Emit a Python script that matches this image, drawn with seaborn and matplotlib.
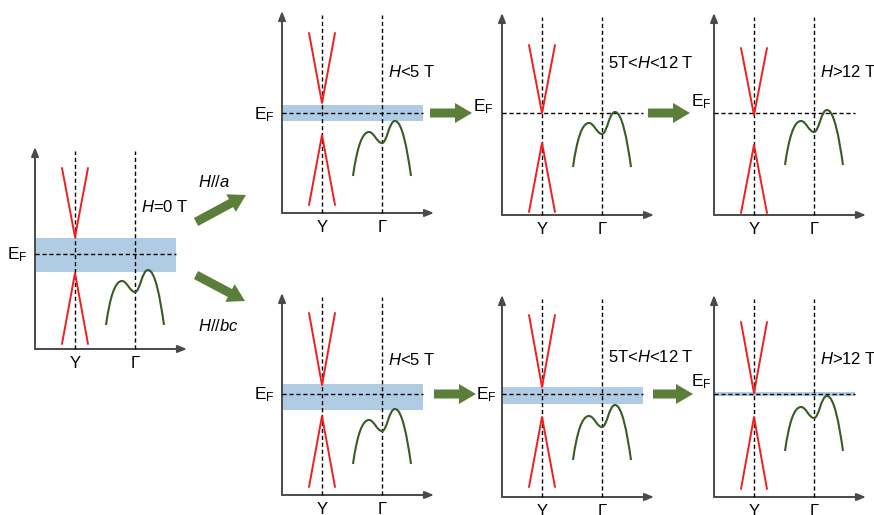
import numpy as np
import pandas as pd
import seaborn as sns
import matplotlib
matplotlib.use("Agg")
import matplotlib.pyplot as plt
from matplotlib.path import Path
from matplotlib.patches import PathPatch, FancyArrow

# ---------------- data (pixel-based schematic values) ----------------
panel_x0 = [35, 282, 502, 714, 282, 502, 714]      # axis origin (px from left)
panel_y0 = [349, 213, 215, 215, 495, 497, 497]     # axis origin (px from top)
ef_level = [95, 100, 102, 102, 101, 103, 103]      # Fermi level height
band_top = [111, 108, 102, 102, 111, 110, 105]
band_bot = [77, 92, 102, 102, 85, 93, 101]
upper_apex = [112, 110, 102, 100, 110, 110, 104]
upper_top = [181, 180, 170, 167, 182, 182, 175]
lower_apex = [76, 78, 72, 70, 79, 80, 80]
lower_bot = [5, 8, 3, 2, 8, 10, 8]
curve_base = [24, 37, 48, 50, 31, 37, 46]
field_labels = [r"$\mathit{H}$=0 T", r"$\mathit{H}$<5 T", r"5T<$\mathit{H}$<12 T",
                r"$\mathit{H}$>12 T", r"$\mathit{H}$<5 T", r"5T<$\mathit{H}$<12 T",
                r"$\mathit{H}$>12 T"]
field_label_h = [142, 141, 152, 143, 135, 140, 138]
ef_label_dy = [-1, -2, 6, 11, -1, -1, 12]
ef_label_gap = [7, 7, 8, 2, 7, 5, 2]
tick_labels = ["Y", "\u0393"]
tick_pos = [40, 100]

# band-curve shape around Gamma: start, max1, min, max2, end
curve_dx = [-29, -13, 0, 13, 29]
curve_dy = [0, 44, 33, 55, 0]
cone_half = 13

# arrows: (x0, y0, x1, y1)
arrows = [(430, 113, 472, 113), (648, 113, 690, 113),
          (434, 394, 476, 394), (653, 394, 693, 394),
          (196, 222, 246, 195), (196, 275, 245, 301)]
dir_labels = [r"$\mathit{H//a}$", r"$\mathit{H//bc}$"]
dir_label_pos = [(198, 182), (198, 326)]

AX_LEN, AX_H = 152, 202
EF_LEN, DASH_H = 141, 198

# ---------------- style ----------------
sns.set_theme(style="white")
plt.rcParams["font.family"] = ["Liberation Sans", "DejaVu Sans"]
plt.rcParams["mathtext.fontset"] = "custom"
plt.rcParams["mathtext.rm"] = "Liberation Sans"
plt.rcParams["mathtext.it"] = "Liberation Sans:italic"
plt.rcParams["mathtext.bf"] = "Liberation Sans:bold"

RED = "#f01e1e"
DGREEN = "#3a5a26"
AGREEN = "#5b7e3a"
BLUE = "#b0cce5"
AXC = "#4a4a4a"
FS = 12

W, H = 874, 515
fig = plt.figure(figsize=(W / 100, H / 100), dpi=100)


def draw_panel(i):
    x0, y0 = panel_x0[i], panel_y0[i]
    ax = fig.add_axes([x0 / W, (H - y0) / H, AX_LEN / W, AX_H / H])
    ax.set_xlim(0, AX_LEN)
    ax.set_ylim(0, AX_H)
    ax.axis("off")
    ax.patch.set_alpha(0)
    # axes with arrows
    ax.annotate("", xy=(0, AX_H), xytext=(0, 0),
                arrowprops=dict(arrowstyle="-|>,head_length=0.45,head_width=0.18",
                                color=AXC, lw=1.4, shrinkA=0, shrinkB=0),
                annotation_clip=False)
    ax.annotate("", xy=(AX_LEN, 0), xytext=(0, 0),
                arrowprops=dict(arrowstyle="-|>,head_length=0.45,head_width=0.18",
                                color=AXC, lw=1.4, shrinkA=0, shrinkB=0),
                annotation_clip=False)
    # band
    if band_top[i] > band_bot[i]:
        ax.fill_between([0, EF_LEN], band_bot[i], band_top[i], color=BLUE,
                        lw=0, zorder=1)
    # dashed lines
    for xp in tick_pos:
        ax.plot([xp, xp], [0, DASH_H], ls=(0, (3, 2)), color="black", lw=1.0,
                zorder=3, clip_on=False)
    ax.plot([0, EF_LEN], [ef_level[i], ef_level[i]], ls=(0, (3, 2)),
            color="black", lw=1.0, zorder=3, clip_on=False)
    # Dirac cones
    yx = tick_pos[0]
    cone = pd.DataFrame({
        "x": [yx - cone_half, yx, yx + cone_half, yx - cone_half, yx, yx + cone_half],
        "y": [upper_top[i], upper_apex[i], upper_top[i],
              lower_bot[i], lower_apex[i], lower_bot[i]],
        "part": ["u", "u", "u", "l", "l", "l"],
    })
    for part in ["u", "l"]:
        sub = cone[cone["part"] == part]
        sns.lineplot(data=sub, x="x", y="y", sort=False, estimator=None,
                     color=RED, lw=1.4, ax=ax, zorder=4)
    ax.set_xlim(0, AX_LEN)
    ax.set_ylim(0, AX_H)
    ax.axis("off")
    # trivial band near Gamma
    gx = tick_pos[1]
    b = curve_base[i]
    p = [(gx + dx, b + dy) for dx, dy in zip(curve_dx, curve_dy)]
    verts = [p[0],
             (p[0][0] + 4, p[0][1] + 28), (p[1][0] - 7, p[1][1]), p[1],
             (p[1][0] + 5, p[1][1]), (p[2][0] - 5, p[2][1]), p[2],
             (p[2][0] + 5, p[2][1]), (p[3][0] - 6, p[3][1]), p[3],
             (p[3][0] + 7, p[3][1]), (p[4][0] - 4, p[4][1] + 28), p[4]]
    codes = [Path.MOVETO] + [Path.CURVE4] * 12
    ax.add_patch(PathPatch(Path(verts, codes), fill=False, edgecolor=DGREEN,
                           lw=1.5, zorder=4))
    # texts
    ax.text(106, field_label_h[i], field_labels[i], fontsize=FS, ha="left",
            va="center", color="black")
    ax.text(-ef_label_gap[i], ef_level[i] + ef_label_dy[i], r"E$_\mathrm{F}$",
            fontsize=FS + 0.5, ha="right", va="center", color="black")
    for xp, lab in zip(tick_pos, tick_labels):
        ax.text(xp, -15, lab, fontsize=FS, ha="center", va="center",
                color="black", clip_on=False)


for i in range(len(panel_x0)):
    draw_panel(i)

# overlay for arrows and direction labels
ov = fig.add_axes([0, 0, 1, 1])
ov.set_xlim(0, W)
ov.set_ylim(H, 0)
ov.axis("off")
ov.patch.set_alpha(0)
for (xa, ya, xb, yb) in arrows:
    ov.add_patch(FancyArrow(xa, ya, xb - xa, yb - ya, width=9, head_width=20,
                            head_length=17, length_includes_head=True,
                            color=AGREEN, lw=0))
for lab, (lx, ly) in zip(dir_labels, dir_label_pos):
    ov.text(lx, ly, lab, fontsize=FS, ha="left", va="center", color="black")

fig.savefig("out.png", dpi=100)
